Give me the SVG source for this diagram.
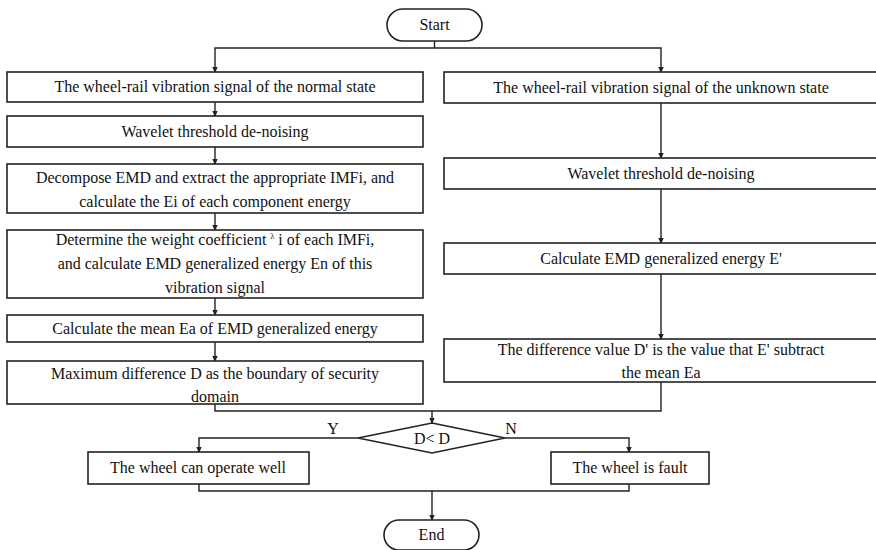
<svg xmlns="http://www.w3.org/2000/svg" width="876" height="550" viewBox="0 0 876 550">
<defs>
<marker id="ah" markerWidth="6" markerHeight="7" refX="5" refY="3.5" orient="auto" markerUnits="userSpaceOnUse">
<path d="M0,0.8 L6,3.5 L0,6.2 Z" fill="#222"/>
</marker>
<style>
.box{fill:#fff;stroke:#222;stroke-width:1.6}
.t{font-family:"Liberation Serif","Times New Roman",serif;font-size:16px;fill:#111;text-anchor:middle}
.c{fill:none;stroke:#222;stroke-width:1.4}
.a{fill:none;stroke:#222;stroke-width:1.4;marker-end:url(#ah)}
</style>
</defs>
<rect width="876" height="550" fill="#fff"/>
<g id="connectors">
<polyline class="c" points="434.5,41 434.5,48"/>
<polyline class="a" points="434.5,48 215,48 215,72"/>
<polyline class="a" points="434.5,48 661,48 661,72"/>
<line class="a" x1="215" y1="102" x2="215" y2="116"/>
<line class="a" x1="215" y1="147" x2="215" y2="164"/>
<line class="a" x1="215" y1="213" x2="215" y2="230"/>
<line class="a" x1="215" y1="298" x2="215" y2="315"/>
<line class="a" x1="215" y1="342" x2="215" y2="361"/>
<line class="a" x1="661" y1="103" x2="661" y2="158"/>
<line class="a" x1="661" y1="189" x2="661" y2="243"/>
<line class="a" x1="661" y1="274" x2="661" y2="339"/>
<polyline class="c" points="215,404 215,411 661,411 661,382"/>
<line class="a" x1="432" y1="411" x2="432" y2="423"/>
<polyline class="a" points="358,438 199,438 199,452"/>
<polyline class="a" points="505,438 629,438 629,452"/>
<polyline class="c" points="199,484 199,491 629,491 629,484"/>
<line class="a" x1="432" y1="491" x2="432" y2="520"/>
</g>
<g id="start">
<rect class="box" x="387" y="9" width="95" height="32" rx="16" ry="16"/>
<text class="t" x="434.5" y="30">Start</text>
</g>
<g id="normal-signal">
<rect class="box" x="7" y="72" width="416" height="30"/>
<text class="t" x="215" y="92">The wheel-rail vibration signal of the normal state</text>
</g>
<g id="denoise-left">
<rect class="box" x="7" y="116" width="416" height="31"/>
<text class="t" x="215" y="137">Wavelet threshold de-noising</text>
</g>
<g id="decompose">
<rect class="box" x="7" y="164" width="416" height="49"/>
<text class="t" x="215" y="183">Decompose EMD and extract the appropriate IMFi, and</text>
<text class="t" x="215" y="207">calculate the Ei of each component energy</text>
</g>
<g id="weight">
<rect class="box" x="7" y="230" width="416" height="68"/>
<text class="t" x="215" y="245">Determine the weight coefficient <tspan font-size="8" dy="-6">λ</tspan><tspan dy="6"> i of each IMFi,</tspan></text>
<text class="t" x="215" y="269">and calculate EMD generalized energy En of this</text>
<text class="t" x="215" y="293">vibration signal</text>
</g>
<g id="mean">
<rect class="box" x="7" y="315" width="416" height="27"/>
<text class="t" x="215" y="334">Calculate the mean Ea of EMD generalized energy</text>
</g>
<g id="max-diff">
<rect class="box" x="7" y="361" width="416" height="43"/>
<text class="t" x="215" y="379">Maximum difference D as the boundary of security</text>
<text class="t" x="215" y="402">domain</text>
</g>
<g id="unknown-signal">
<rect class="box" x="444" y="72" width="440" height="31"/>
<text class="t" x="661" y="93">The wheel-rail vibration signal of the unknown state</text>
</g>
<g id="denoise-right">
<rect class="box" x="444" y="158" width="440" height="31"/>
<text class="t" x="661" y="179">Wavelet threshold de-noising</text>
</g>
<g id="calc-e">
<rect class="box" x="444" y="243" width="440" height="31"/>
<text class="t" x="661" y="264">Calculate EMD generalized energy E'</text>
</g>
<g id="diff">
<rect class="box" x="444" y="339" width="440" height="43"/>
<text class="t" x="661" y="355">The difference value D' is the value that E' subtract</text>
<text class="t" x="661" y="378">the mean Ea</text>
</g>
<g id="decision">
<polygon class="box" points="432,423 505,438 432,453 358,438"/>
<text class="t" x="432" y="444">D&lt; D</text>
<text class="t" x="333" y="434">Y</text>
<text class="t" x="511" y="434">N</text>
</g>
<g id="operate-well">
<rect class="box" x="88" y="452" width="221" height="32"/>
<text class="t" x="198" y="473">The wheel can operate well</text>
</g>
<g id="fault">
<rect class="box" x="551" y="452" width="158" height="32"/>
<text class="t" x="630" y="473">The wheel is fault</text>
</g>
<g id="end">
<rect class="box" x="384" y="520" width="95" height="30" rx="15" ry="15"/>
<text class="t" x="431.5" y="540">End</text>
</g>
</svg>
